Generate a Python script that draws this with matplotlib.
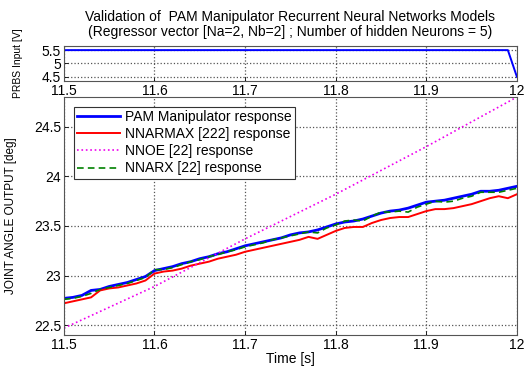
import numpy as np
import matplotlib
matplotlib.use('Agg')
import matplotlib.pyplot as plt

plt.rcParams['font.family'] = ['Liberation Sans', 'DejaVu Sans']

# Time base (s)
t = np.round(np.arange(11.5, 12.0001, 0.01), 2)

# PRBS input [V]
t_in = [11.5, 11.99, 12.0]
u_in = [5.5, 5.5, 4.5]

# Joint angle responses [deg]
pam = [22.77, 22.78, 22.80, 22.85, 22.86, 22.89, 22.91, 22.93, 22.96, 22.99,
       23.05, 23.07, 23.09, 23.12, 23.14, 23.17, 23.19, 23.22, 23.24, 23.27,
       23.30, 23.32, 23.34, 23.36, 23.38, 23.41, 23.43, 23.44, 23.46, 23.49,
       23.52, 23.54, 23.55, 23.57, 23.60, 23.63, 23.65, 23.66, 23.68, 23.71,
       23.74, 23.75, 23.76, 23.78, 23.80, 23.82, 23.85, 23.85, 23.86, 23.88,
       23.90]
nnarmax = [22.72, 22.74, 22.76, 22.78, 22.85, 22.87, 22.88, 22.90, 22.92, 22.95,
           23.02, 23.04, 23.05, 23.07, 23.10, 23.12, 23.14, 23.17, 23.19, 23.21,
           23.24, 23.26, 23.28, 23.30, 23.32, 23.34, 23.36, 23.39, 23.37, 23.41,
           23.45, 23.48, 23.49, 23.49, 23.53, 23.56, 23.58, 23.59, 23.59, 23.62,
           23.65, 23.67, 23.67, 23.68, 23.70, 23.72, 23.75, 23.78, 23.80, 23.78,
           23.82]
nnarx = [22.76, 22.77, 22.79, 22.82, 22.86, 22.88, 22.90, 22.92, 22.95, 22.98,
         23.06, 23.06, 23.08, 23.11, 23.14, 23.16, 23.19, 23.21, 23.24, 23.26,
         23.29, 23.31, 23.33, 23.36, 23.38, 23.40, 23.42, 23.44, 23.43, 23.48,
         23.51, 23.55, 23.56, 23.55, 23.60, 23.64, 23.64, 23.65, 23.64, 23.69,
         23.72, 23.75, 23.74, 23.75, 23.78, 23.80, 23.84, 23.84, 23.84, 23.86,
         23.88]
t_nnoe = [11.5, 11.6, 11.7, 11.8, 11.9, 12.0]
nnoe = [22.47, 22.89, 23.37, 23.82, 24.30, 24.80]

xticks = [11.5, 11.6, 11.7, 11.8, 11.9, 12]
xticklabels = ['11.5', '11.6', '11.7', '11.8', '11.9', '12']

fig = plt.figure(figsize=(5.28, 3.69), dpi=100)
ax1 = fig.add_axes([0.121, 0.781, 0.858, 0.094])
ax2 = fig.add_axes([0.121, 0.092, 0.858, 0.645])

grid_kw = dict(color='#555555', linestyle=':', linewidth=0.9)

# top: PRBS input
ax1.plot(t_in, u_in, color='#0000ff', lw=1.4)
ax1.set_xlim(11.5, 12)
ax1.set_ylim(4.35, 5.65)
ax1.set_yticks([4.5, 5, 5.5])
ax1.set_yticklabels(['4.5', '5', '5.5'])
ax1.set_xticks(xticks)
ax1.set_xticklabels(xticklabels)
ax1.grid(True, **grid_kw)
ax1.set_ylabel('PRBS Input [V]', fontsize=7.5)
ax1.yaxis.set_label_coords(-0.09, 0.5)
ax1.set_title('Validation of  PAM Manipulator Recurrent Neural Networks Models\n'
              '(Regressor vector [Na=2, Nb=2] ; Number of hidden Neurons = 5)',
              fontsize=10, pad=7, linespacing=1.1)

# bottom: joint angle output
ax2.plot(t, pam, color='#0000ff', lw=2.0, label='PAM Manipulator response')
ax2.plot(t, nnarmax, color='#ff0000', lw=1.4, label='NNARMAX [222] response')
ax2.plot(t_nnoe, nnoe, color='#ee00ee', lw=1.2, linestyle=':', label='NNOE [22] response')
ax2.plot(t, nnarx, color='#008000', lw=1.2, linestyle=(0, (4, 2.5)), label='NNARX [22] response')
ax2.set_xlim(11.5, 12)
ax2.set_ylim(22.4, 24.8)
ax2.set_yticks([22.5, 23, 23.5, 24, 24.5])
ax2.set_yticklabels(['22.5', '23', '23.5', '24', '24.5'])
ax2.set_xticks(xticks)
ax2.set_xticklabels(xticklabels)
ax2.grid(True, **grid_kw)
ax2.set_xlabel('Time [s]', fontsize=10, labelpad=0)
ax2.set_ylabel('JOINT ANGLE OUTPUT [deg]', fontsize=8.5)
ax2.yaxis.set_label_coords(-0.104, 0.5)
leg = ax2.legend(loc='upper left', fontsize=10, frameon=True, fancybox=False,
                 edgecolor='#333333', framealpha=1, borderpad=0.25,
                 labelspacing=0.22, handlelength=3.1, handletextpad=0.35,
                 borderaxespad=0.7)
leg.get_frame().set_linewidth(0.8)

for ax in (ax1, ax2):
    ax.tick_params(direction='in', labelsize=10, length=3, width=0.6, pad=2)
    for s in ax.spines.values():
        s.set_color('#555555')
        s.set_linewidth(0.8)

fig.savefig('out.png', dpi=100)
